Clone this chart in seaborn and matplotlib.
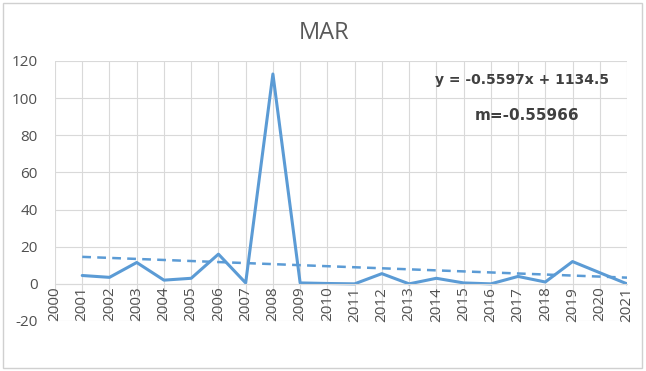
import numpy as np
import pandas as pd
import matplotlib
matplotlib.use("Agg")
import matplotlib.pyplot as plt
import seaborn as sns

years = list(range(2001, 2022))
values = [4.5, 3.5, 11.5, 2.0, 3.0, 16.0, 0.5, 113.0, 0.5, 0.2, 0.0,
          5.5, 0.0, 3.0, 0.5, 0.0, 4.0, 1.0, 12.0, 6.0, 0.0]
trend_slope = -0.5597
trend_intercept = 1134.5
title = "MAR"
eq_text = "y = -0.5597x + 1134.5"
m_text = "m=-0.55966"
xtick_labels = [str(y) for y in range(2000, 2022)]
ytick_values = [-20, 0, 20, 40, 60, 80, 100, 120]

sns.set_style("whitegrid")
plt.rcParams['font.family'] = ['Open Sans', 'DejaVu Sans']

df = pd.DataFrame({"year": years, "value": values})
df["trend"] = trend_slope * df["year"] + trend_intercept

fig = plt.figure(figsize=(6.46, 3.71), dpi=100)
ax = fig.add_axes([55/646, 1-321/371, (627-55)/646, (321-61)/371])

color = "#5B9BD5"
sns.lineplot(data=df, x="year", y="value", ax=ax, color=color, linewidth=2.2)
sns.lineplot(data=df, x="year", y="trend", ax=ax, color=color, linewidth=1.8,
             linestyle=(0, (3.5, 2.5)))

for s in ["top", "right", "left"]:
    ax.spines[s].set_visible(False)
ax.spines["bottom"].set_position(("data", 0))
ax.spines["bottom"].set_color("#D9D9D9")
ax.spines["bottom"].set_linewidth(0.8)

ax.set_xlim(2000, 2021)
ax.set_ylim(-20, 120)
ax.set_xticks(range(2000, 2022))
ax.set_xticklabels(xtick_labels, rotation=90, fontsize=11, color="#505050")
ax.set_yticks(ytick_values)
ax.set_yticklabels([str(v) for v in ytick_values], fontsize=11, color="#505050")
ax.set_xlabel("")
ax.set_ylabel("")
ax.grid(True, color="#D9D9D9", linewidth=0.8)
ax.tick_params(axis="x", length=0, pad=2)
ax.tick_params(axis="y", length=0, pad=12.5)

fig.text(324.5/646, 1-33/371, title, ha="center", va="center", fontsize=17, color="#595959")
fig.text(609/646, 1-80/371, eq_text, ha="right", va="center", fontsize=10,
         fontweight="bold", color="#404040", family="DejaVu Sans")
fig.text(527/646, 1-115/371, m_text, ha="center", va="center", fontsize=11,
         fontweight="bold", color="#404040", family="DejaVu Sans")

border = plt.Rectangle((3/646, 3/371), 639/646, 365/371, transform=fig.transFigure,
                       fill=False, edgecolor="#D0D0D0", linewidth=1)
fig.patches.append(border)

fig.savefig("out.png", dpi=100, facecolor="white")
